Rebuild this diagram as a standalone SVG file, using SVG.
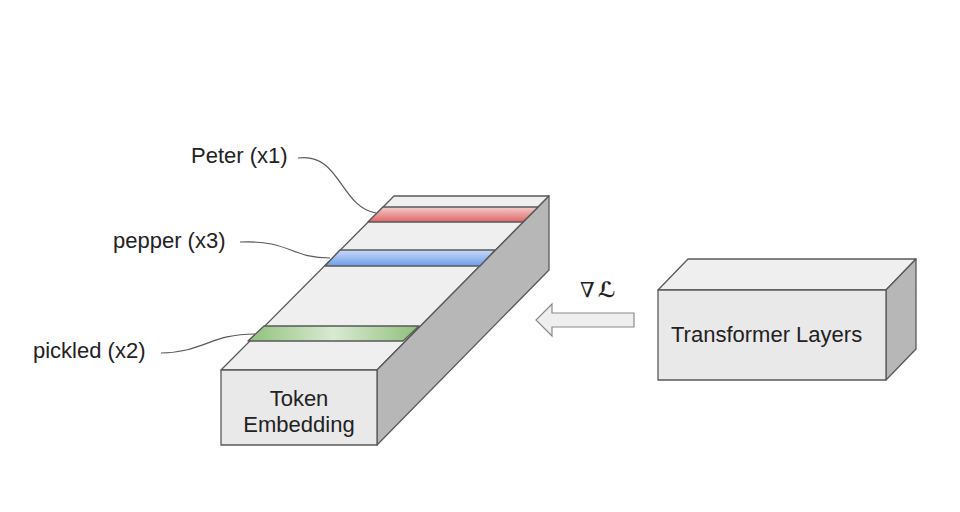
<svg xmlns="http://www.w3.org/2000/svg" width="960" height="512" viewBox="0 0 960 512">
<defs>
  <linearGradient id="gRed" x1="0" y1="0" x2="0" y2="1">
    <stop offset="0" stop-color="#f4cccc"/>
    <stop offset="1" stop-color="#e06666"/>
  </linearGradient>
  <linearGradient id="gBlue" x1="0" y1="0" x2="0" y2="1">
    <stop offset="0" stop-color="#c9daf8"/>
    <stop offset="1" stop-color="#6d9eeb"/>
  </linearGradient>
  <linearGradient id="gGreen" x1="0" y1="0" x2="1" y2="0">
    <stop offset="0" stop-color="#8fc07a"/>
    <stop offset="0.5" stop-color="#d9ead3"/>
    <stop offset="1" stop-color="#8fc07a"/>
  </linearGradient>
  <style>
    .face{stroke:#595959;stroke-width:1.3;stroke-linejoin:round}
    .top{fill:#efefef}
    .front{fill:#e9e9e9}
    .side{fill:#b7b7b7}
    .lbl{font-family:"Liberation Sans",Arial,sans-serif;font-size:22px;fill:#222}
    .lead{fill:none;stroke:#595959;stroke-width:1.2}
  </style>
</defs>
<rect width="960" height="512" fill="#ffffff"/>

<g id="token-embedding">
  <polygon class="face top" points="221,370 394,196 549,196 377,370"/>
  <polygon class="face side" points="377,370 549,196 549,270 377,445"/>
  <polygon class="face" fill="url(#gRed)" points="383,207 538,207 523,222 368,222"/>
  <polygon class="face" fill="url(#gBlue)" points="340,250 495,250 480,266 325,266"/>
  <polygon class="face" fill="url(#gGreen)" points="264,326 419,326 403,341 248,341"/>
  <rect class="face front" x="221" y="370" width="156" height="75"/>
  <text class="lbl" x="299" y="406" text-anchor="middle">Token</text>
  <text class="lbl" x="299" y="432" text-anchor="middle">Embedding</text>
</g>

<g id="transformer-layers">
  <polygon class="face top" points="658,290 688,259 916,259 886,290"/>
  <polygon class="face side" points="886,290 916,259 916,349 886,380"/>
  <rect class="face front" x="658" y="290" width="228" height="90"/>
  <text class="lbl" x="671" y="342">Transformer Layers</text>
</g>

<g id="label-peter">
  <text class="lbl" x="191" y="163">Peter (x1)</text>
</g>
<g id="label-pepper">
  <text class="lbl" x="113" y="248">pepper (x3)</text>
</g>
<g id="label-pickled">
  <text class="lbl" x="33" y="358">pickled (x2)</text>
</g>

<g id="gradient-label">
  <text x="580" y="297" font-family="DejaVu Serif, DejaVu Sans, serif" font-size="21" fill="#222">∇<tspan font-weight="bold" dx="3">ℒ</tspan></text>
</g>

<g id="connectors">
  <path class="lead" d="M298,158 C340,152 340,207 376,213"/>
  <path class="lead" d="M240,242 C290,240 290,258 330,258"/>
  <path class="lead" d="M161,353 C205,352 210,334 255,334"/>
  <polygon fill="#efefef" stroke="#8a8a8a" stroke-width="1.2" points="634,313 552,313 552,304 536,320 552,336 552,327 634,327"/>
</g>
</svg>
